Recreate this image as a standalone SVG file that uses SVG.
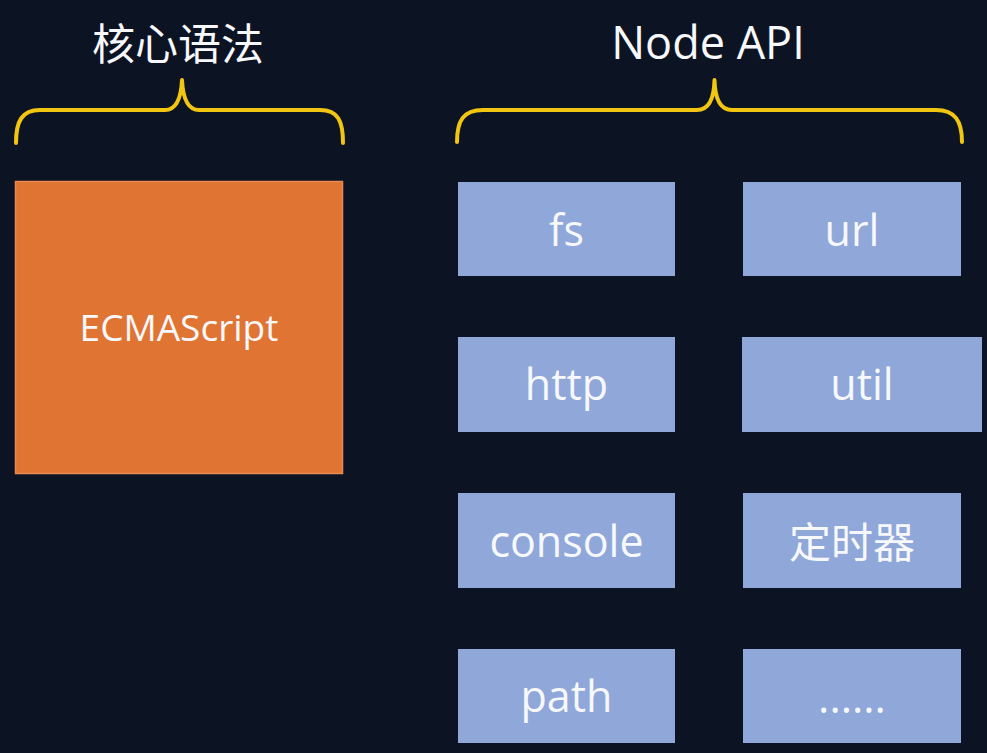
<svg xmlns="http://www.w3.org/2000/svg" width="987" height="753" viewBox="0 0 987 753">
<style>
.t{font-family:"Open Sans","Noto Sans CJK SC",sans-serif;fill:#F7F8FC;text-anchor:middle}
.h{font-size:45px}
.b{font-size:43px}
.box{fill:#8FA7D9}
.brace{fill:none;stroke:#F2C511;stroke-width:4;stroke-linecap:round;stroke-linejoin:round}
</style>
<rect width="987" height="753" fill="#0C1322"/>
<g id="title-core"><text class="t h" x="178" y="60" style="font-family:'Noto Sans CJK SC',sans-serif;font-size:43px">核心语法</text></g>
<g id="title-node"><text class="t h" x="708" y="59">Node API</text></g>
<g id="braces">
<path class="brace" d="M16,143 C16,121 22,110 40,110 L165,110 C175,110 181,100 182,80 C183,100 189,110 199,110 L320,110 C338,110 343,121 343,143"/>
<path class="brace" d="M457,142 C457,121 463,110 483,110 L697,110 C708,110 714,100 714.5,80 C715,100 721,110 732,110 L936,110 C955,110 962,121 962,142"/>
</g>
<g id="ecmascript"><rect x="15.5" y="181.5" width="327" height="292" fill="#E07533" stroke="#E98A52" stroke-width="1.5"/><text class="t" x="179" y="341" style="font-size:37px">ECMAScript</text></g>
<g id="fs"><rect class="box" x="458" y="182" width="217" height="94"/><text class="t b" x="566.5" y="246">fs</text></g>
<g id="url"><rect class="box" x="743" y="182" width="218" height="94"/><text class="t b" x="852" y="246">url</text></g>
<g id="http"><rect class="box" x="458" y="337" width="217" height="95"/><text class="t b" x="566.5" y="400">http</text></g>
<g id="util"><rect class="box" x="742" y="337" width="240" height="95"/><text class="t b" x="862" y="400">util</text></g>
<g id="console"><rect class="box" x="458" y="493" width="217" height="95"/><text class="t b" x="566.5" y="557">console</text></g>
<g id="timer"><rect class="box" x="743" y="493" width="218" height="95"/><text class="t b" x="852" y="558" style="font-family:'Noto Sans CJK SC',sans-serif;font-size:42px">定时器</text></g>
<g id="path"><rect class="box" x="458" y="649" width="217" height="94"/><text class="t b" x="566.5" y="712">path</text></g>
<g id="more"><rect class="box" x="743" y="649" width="218" height="94"/><text class="t b" x="852" y="713">......</text></g>
</svg>
